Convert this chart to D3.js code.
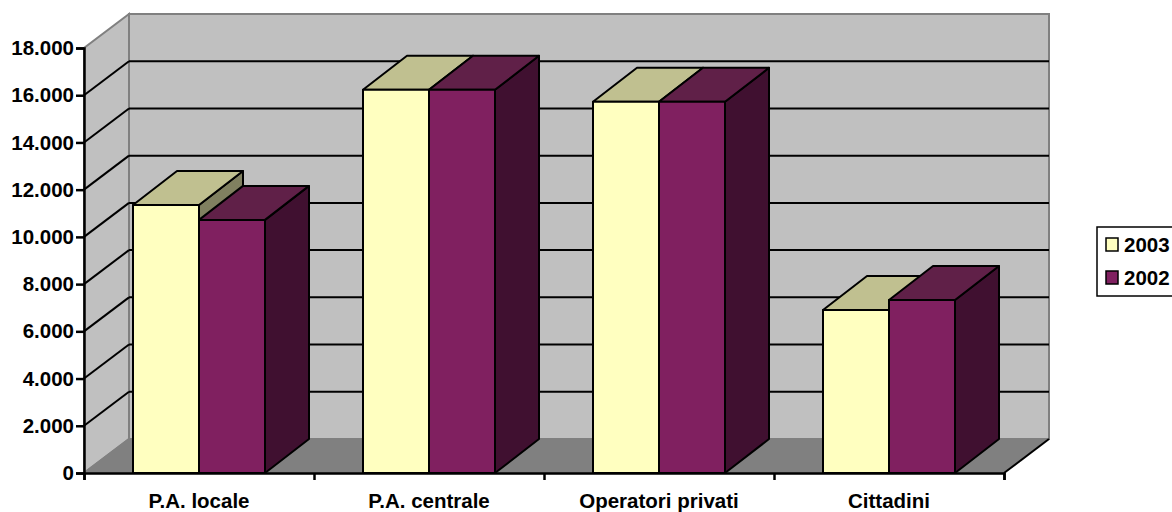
<!DOCTYPE html>
<html lang="en">
<head>
<meta charset="UTF-8">
<title>3D column chart</title>
<style>
  html, body { margin: 0; padding: 0; background: #fff; }
  svg { display: block; }
  text, .tick text { font-family: "Liberation Sans", Arial, sans-serif; font-weight: bold; font-size: 20.5px; fill: #000; }
</style>
</head>
<body>
<svg width="1172" height="512"></svg>
<script src="https://d3js.org/d3.v7.min.js"></script>
<script>
var categories = ["P.A. locale", "P.A. centrale", "Operatori privati", "Cittadini"];
var seriesNames = ["2003", "2002"];
var values2003 = [11350, 16230, 15720, 6900];
var values2002 = [10720, 16230, 15720, 7330];
var yTicks = [0, 2000, 4000, 6000, 8000, 10000, 12000, 14000, 16000, 18000];

var colors = {
  "2003": {front: "#FFFFC0", top: "#C0C090", side: "#808060"},
  "2002": {front: "#802060", top: "#602048", side: "#401030"}
};

var svg = d3.select("svg");
var left = 84, right = 1004, bottom = 473, top_ = 48;
var depthX = 45, depthY = 34;

var x = d3.scaleBand().domain(categories).range([left, right]);
var xInner = d3.scaleBand().domain(seriesNames).range([49, 181]);
var y = d3.scaleLinear().domain([0, 18000]).range([bottom, top_]);

function poly(pts) { return pts.map(function(p) { return p.join(","); }).join(" "); }

// walls and floor
var walls = svg.append("g");
walls.append("polygon")
    .attr("points", poly([[left, bottom], [left + depthX, bottom - depthY], [left + depthX, top_ - depthY], [left, top_]]))
    .attr("fill", "#C0C0C0").attr("stroke", "#808080").attr("stroke-width", 2);
walls.append("rect")
    .attr("x", left + depthX).attr("y", top_ - depthY)
    .attr("width", right - left).attr("height", bottom - top_)
    .attr("fill", "#C0C0C0").attr("stroke", "#808080").attr("stroke-width", 2);
walls.append("polygon")
    .attr("points", poly([[left, bottom], [right, bottom], [right + depthX, bottom - depthY], [left + depthX, bottom - depthY]]))
    .attr("fill", "#808080");
walls.append("line")
    .attr("x1", left).attr("y1", bottom).attr("x2", left + depthX).attr("y2", bottom - depthY)
    .attr("stroke", "#808080").attr("stroke-width", 2);
walls.append("line")
    .attr("x1", right).attr("y1", bottom).attr("x2", right + depthX).attr("y2", bottom - depthY)
    .attr("stroke", "#000").attr("stroke-width", 2);

// gridlines, skipping the floor and the top edge
var gridTicks = yTicks.filter(function(d) { return d > 0 && d < 18000; });
var grid = svg.append("g").attr("stroke", "#000").attr("stroke-width", 2);
grid.selectAll(".side").data(gridTicks).enter().append("line")
    .attr("x1", left).attr("y1", function(d) { return y(d); })
    .attr("x2", left + depthX).attr("y2", function(d) { return y(d) - depthY; });
grid.selectAll(".back").data(gridTicks).enter().append("line")
    .attr("x1", left + depthX).attr("y1", function(d) { return y(d) - depthY; })
    .attr("x2", right + depthX).attr("y2", function(d) { return y(d) - depthY; });

// columns
var seriesValues = {"2003": values2003, "2002": values2002};
var bw = xInner.bandwidth();
var barGroup = svg.append("g").attr("stroke", "#000").attr("stroke-width", 2).attr("stroke-linejoin", "round");
categories.forEach(function(cat, i) {
  seriesNames.forEach(function(name) {
    var x0 = x(cat) + xInner(name), x1 = x0 + bw;
    var yTop = y(seriesValues[name][i]);
    var c = colors[name];
    barGroup.append("polygon")
        .attr("points", poly([[x1, bottom], [x1 + depthX - 1, bottom - depthY], [x1 + depthX - 1, yTop - depthY], [x1, yTop]]))
        .attr("fill", c.side);
    barGroup.append("polygon")
        .attr("points", poly([[x0, yTop], [x0 + depthX - 1, yTop - depthY], [x1 + depthX - 1, yTop - depthY], [x1, yTop]]))
        .attr("fill", c.top);
    barGroup.append("rect")
        .attr("x", x0).attr("y", yTop).attr("width", bw).attr("height", bottom - yTop)
        .attr("fill", c.front);
  });
});

// axes
var yAxis = d3.axisLeft(y)
    .tickValues(yTicks)
    .tickSize(8)
    .tickPadding(2)
    .tickFormat(function(d) { return d3.format(",")(d).replace(",", "."); });
var yG = svg.append("g").attr("transform", "translate(" + left + ",0)").call(yAxis);

var xEdges = d3.scaleLinear().domain([0, categories.length]).range([left, right]);
svg.append("g").attr("transform", "translate(0," + bottom + ")")
    .call(d3.axisBottom(xEdges).tickValues(d3.range(categories.length + 1)).tickSize(7).tickFormat(""));
svg.append("g").attr("transform", "translate(0," + bottom + ")")
    .call(d3.axisBottom(x).tickSize(0).tickPadding(20))
    .call(function(g) { g.select(".domain").remove(); });

svg.selectAll(".domain, .tick line").attr("stroke", "#000").attr("stroke-width", 2.5);

// legend
var legend = svg.append("g");
legend.append("rect")
    .attr("x", 1097).attr("y", 227).attr("width", 80).attr("height", 69)
    .attr("fill", "#fff").attr("stroke", "#000").attr("stroke-width", 1.5);
var item = legend.selectAll(".item").data(seriesNames).enter().append("g")
    .attr("transform", function(d, i) { return "translate(1106," + (245 + i * 33) + ")"; });
item.append("rect")
    .attr("x", 0).attr("y", -7).attr("width", 12).attr("height", 13)
    .attr("fill", function(d) { return colors[d].front; })
    .attr("stroke", "#000").attr("stroke-width", 1.5);
item.append("text")
    .attr("x", 18).attr("y", 0).attr("dy", "0.35em")
    .text(function(d) { return d; });
</script>
</body>
</html>
